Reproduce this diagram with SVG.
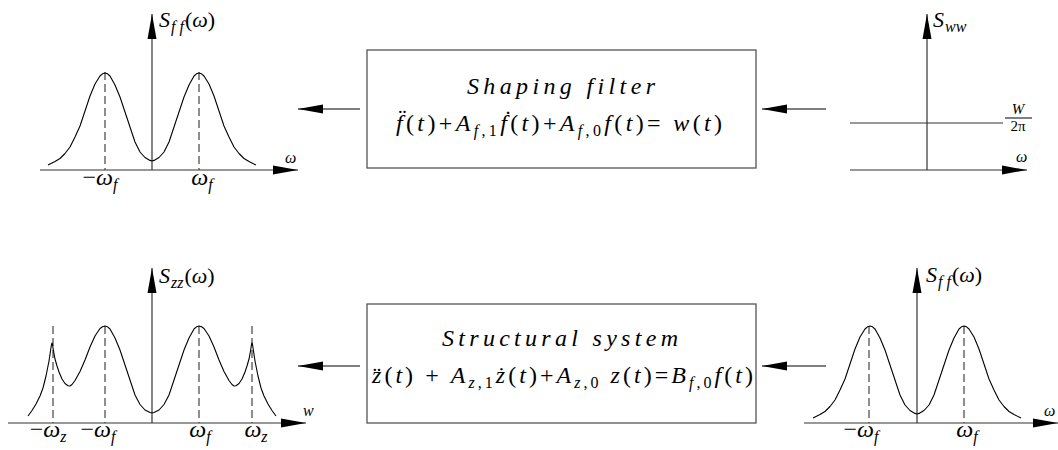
<svg xmlns="http://www.w3.org/2000/svg" xmlns:xlink="http://www.w3.org/1999/xlink" width="1058" height="450" viewBox="0 0 1058 450">
<style>
.ax{stroke:#333;stroke-width:1.2;fill:none}
.cv{stroke:#000;stroke-width:1.1;fill:none;stroke-linejoin:round}
.ds{stroke:#444;stroke-width:1.2;stroke-dasharray:8 4;fill:none}
.bx{stroke:#555;stroke-width:1.3;fill:#fff}
.cn{stroke:#555;stroke-width:1.3;fill:none}
text{font-family:'Liberation Serif',serif;fill:#000}
.i{font-style:italic}
.lb{font-size:22px}
.tk{font-size:24px}
.sb{font-size:16px;font-style:italic}
.sm{font-size:16px;font-style:italic}
.eq{font-size:24px}
.s{font-size:16px}
.ti{font-size:24px;font-style:italic}
</style>
<defs>
<marker id="ah" markerUnits="userSpaceOnUse" markerWidth="26" markerHeight="10" refX="25" refY="5" orient="auto" viewBox="0 0 26 10"><path d="M0,0.5 L25,5 L0,9.5 z" fill="#000"/></marker>
<polyline id="sffHalf" class="cv" points="0,-9 2,-9.6 7,-12.5 12,-18 17,-28 22,-43 27,-58 32,-73 37,-85 42,-94 44.5,-96.2 47,-97 49.5,-96.2 52,-94 57,-86 62,-74 67,-59 72,-44 77,-33 82,-23 87,-16.5 92,-11.5 97,-8.5 104,-5"/>
<polyline id="szzHalf" class="cv" points="0,-10 2,-10.5 7,-13 12,-18.5 17,-28 22,-43 27,-58 32,-73 37,-85 42,-94 44.5,-96.2 47,-97 49.5,-96.2 52,-94.5 57,-87 62,-76 67,-63 72,-51.5 77,-42.5 80,-38.5 82,-37 84,-37.3 87,-39.5 90,-44 93,-51 95,-57 97,-64 98.5,-72 99.5,-78.5 100,-80 100.5,-78.5 101.5,-72 103,-62 106,-47 109,-35 112,-27 116,-19 120,-12.5 124,-7"/>
</defs>

<g id="plot-sff-top" font-family="Liberation Serif, serif">
<line class="ax" x1="40" y1="170" x2="298" y2="170" marker-end="url(#ah)"/>
<line class="ax" x1="152" y1="170" x2="152" y2="14" marker-end="url(#ah)"/>
<line class="ds" x1="105" y1="72" x2="105" y2="170"/>
<line class="ds" x1="199" y1="72" x2="199" y2="170"/>
<use xlink:href="#sffHalf" href="#sffHalf" transform="translate(152,170)"/>
<use xlink:href="#sffHalf" href="#sffHalf" transform="translate(152,170) scale(-1,1)"/>
<text class="lb" x="159" y="27" font-family="Liberation Serif, serif"><tspan class="i">S</tspan><tspan class="sb" dy="5" dx="1">f f</tspan><tspan dy="-5" dx="1">(</tspan><tspan class="i">ω</tspan>)</text>
<text class="sm" x="285" y="163" font-family="Liberation Serif, serif">ω</text>
<text class="tk" x="100" y="185" text-anchor="middle" font-family="Liberation Serif, serif">−<tspan class="i">ω</tspan><tspan class="sb" dy="5">f</tspan></text>
<text class="tk" x="202" y="185" text-anchor="middle" font-family="Liberation Serif, serif"><tspan class="i">ω</tspan><tspan class="sb" dy="5">f</tspan></text>
</g>

<g id="box-shaping" font-family="Liberation Serif, serif">
<rect class="bx" x="367" y="50" width="389" height="118"/>
<text class="ti" x="467" y="94" textLength="188" lengthAdjust="spacing" font-family="Liberation Serif, serif">Shaping  filter</text>
<text class="eq" x="396" y="131" textLength="326" lengthAdjust="spacing" font-family="Liberation Serif, serif"><tspan class="i">f&#776;</tspan>(<tspan class="i">t</tspan>)+<tspan class="i">A</tspan><tspan class="s" dy="5"><tspan class="i">f</tspan>,1</tspan><tspan class="i" dy="-5">f&#775;</tspan>(<tspan class="i">t</tspan>)+<tspan class="i">A</tspan><tspan class="s" dy="5"><tspan class="i">f</tspan>,0</tspan><tspan class="i" dy="-5">f</tspan>(<tspan class="i">t</tspan>)= <tspan class="i">w</tspan>(<tspan class="i">t</tspan>)</text>
</g>

<g id="plot-sww" font-family="Liberation Serif, serif">
<line class="ax" x1="850" y1="170" x2="1027" y2="170" marker-end="url(#ah)"/>
<line class="ax" x1="927" y1="170" x2="927" y2="14" marker-end="url(#ah)"/>
<line class="ax" x1="850" y1="123" x2="1003" y2="123"/>
<text class="lb" x="933" y="27" font-family="Liberation Serif, serif"><tspan class="i">S</tspan><tspan class="sb" dy="5" dx="1">ww</tspan></text>
<text x="1018" y="114" text-anchor="middle" font-size="15" font-style="italic" font-family="Liberation Serif, serif">W</text>
<line x1="1005" y1="118" x2="1032" y2="118" stroke="#000" stroke-width="1"/>
<text x="1018" y="131" text-anchor="middle" font-size="15" font-family="Liberation Serif, serif">2π</text>
<text class="sm" x="1016" y="162" font-family="Liberation Serif, serif">ω</text>
</g>

<g id="plot-szz" font-family="Liberation Serif, serif">
<line class="ax" x1="8" y1="423" x2="306" y2="423" marker-end="url(#ah)"/>
<line class="ax" x1="152" y1="423" x2="152" y2="268" marker-end="url(#ah)"/>
<line class="ds" x1="53" y1="326" x2="53" y2="423"/>
<line class="ds" x1="105" y1="326" x2="105" y2="423"/>
<line class="ds" x1="199" y1="326" x2="199" y2="423"/>
<line class="ds" x1="252" y1="326" x2="252" y2="423"/>
<use xlink:href="#szzHalf" href="#szzHalf" transform="translate(152,423)"/>
<use xlink:href="#szzHalf" href="#szzHalf" transform="translate(152,423) scale(-1,1)"/>
<text class="lb" x="159" y="283" font-family="Liberation Serif, serif"><tspan class="i">S</tspan><tspan class="sb" dy="5" dx="1">zz</tspan><tspan dy="-5" dx="1">(</tspan><tspan class="i">ω</tspan>)</text>
<text class="sm" x="303" y="416" font-size="18" font-family="Liberation Serif, serif">w</text>
<text class="tk" x="48" y="437" text-anchor="middle" font-family="Liberation Serif, serif">−<tspan class="i">ω</tspan><tspan class="sb" dy="5">z</tspan></text>
<text class="tk" x="98" y="437" text-anchor="middle" font-family="Liberation Serif, serif">−<tspan class="i">ω</tspan><tspan class="sb" dy="5">f</tspan></text>
<text class="tk" x="200" y="437" text-anchor="middle" font-family="Liberation Serif, serif"><tspan class="i">ω</tspan><tspan class="sb" dy="5">f</tspan></text>
<text class="tk" x="256" y="437" text-anchor="middle" font-family="Liberation Serif, serif"><tspan class="i">ω</tspan><tspan class="sb" dy="5">z</tspan></text>
</g>

<g id="box-structural" font-family="Liberation Serif, serif">
<rect class="bx" x="367" y="304" width="389" height="119"/>
<text class="ti" x="442" y="346" textLength="236" lengthAdjust="spacing" font-family="Liberation Serif, serif">Structural  system</text>
<text class="eq" x="372" y="383" textLength="381" lengthAdjust="spacing" font-family="Liberation Serif, serif"><tspan class="i">z&#776;</tspan>(<tspan class="i">t</tspan>) + <tspan class="i">A</tspan><tspan class="s" dy="5"><tspan class="i">z</tspan>,1</tspan><tspan class="i" dy="-5">z&#775;</tspan>(<tspan class="i">t</tspan>)+<tspan class="i">A</tspan><tspan class="s" dy="5"><tspan class="i">z</tspan>,0</tspan><tspan class="i" dy="-5"> z</tspan>(<tspan class="i">t</tspan>)=<tspan class="i">B</tspan><tspan class="s" dy="5"><tspan class="i">f</tspan>,0</tspan><tspan class="i" dy="-5">f</tspan>(<tspan class="i">t</tspan>)</text>
</g>

<g id="plot-sff-bottom" font-family="Liberation Serif, serif">
<line class="ax" x1="804" y1="423" x2="1058" y2="423" marker-end="url(#ah)"/>
<line class="ax" x1="917" y1="423" x2="917" y2="268" marker-end="url(#ah)"/>
<line class="ds" x1="869" y1="326" x2="869" y2="423"/>
<line class="ds" x1="964" y1="326" x2="964" y2="423"/>
<use xlink:href="#sffHalf" href="#sffHalf" transform="translate(917,423)"/>
<use xlink:href="#sffHalf" href="#sffHalf" transform="translate(917,423) scale(-1,1)"/>
<text class="lb" x="926" y="282" font-family="Liberation Serif, serif"><tspan class="i">S</tspan><tspan class="sb" dy="5" dx="1">f f</tspan><tspan dy="-5" dx="1">(</tspan><tspan class="i">ω</tspan>)</text>
<text class="tk" x="861" y="437" text-anchor="middle" font-family="Liberation Serif, serif">−<tspan class="i">ω</tspan><tspan class="sb" dy="5">f</tspan></text>
<text class="tk" x="967" y="437" text-anchor="middle" font-family="Liberation Serif, serif"><tspan class="i">ω</tspan><tspan class="sb" dy="5">f</tspan></text>
<text class="sm" x="1044" y="416" font-family="Liberation Serif, serif">ω</text>
</g>

<g id="connectors">
<line class="cn" x1="360" y1="109" x2="298" y2="109" marker-end="url(#ah)"/>
<line class="cn" x1="826" y1="109" x2="762" y2="109" marker-end="url(#ah)"/>
<line class="cn" x1="360" y1="366" x2="298" y2="366" marker-end="url(#ah)"/>
<line class="cn" x1="826" y1="366" x2="762" y2="366" marker-end="url(#ah)"/>
</g>
</svg>
